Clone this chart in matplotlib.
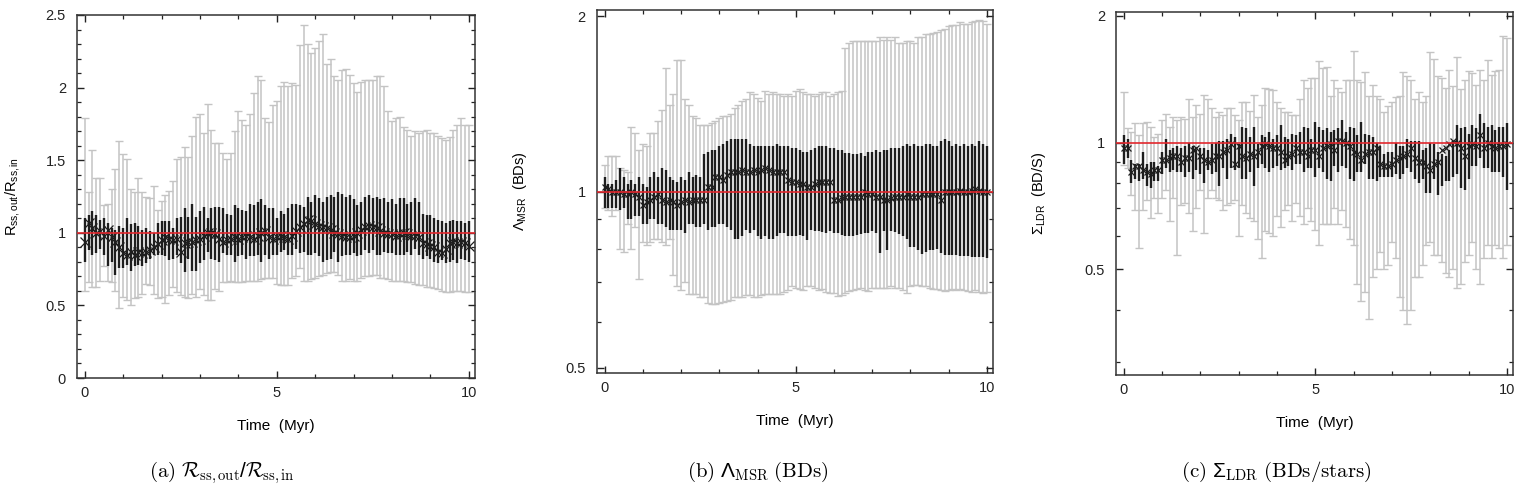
#!/usr/bin/env python3
"""Three-panel time evolution of BD/star spatial ratios with percentile bars."""
import numpy as np
import matplotlib
matplotlib.use("Agg")
import matplotlib.pyplot as plt
from matplotlib.ticker import FixedLocator, MultipleLocator, NullFormatter

# time axis: one sample every 0.1 Myr
TIME = [round(0.1 * i, 1) for i in range(101)]

# (a) R_ss,out / R_ss,in
A_MED = [0.94, 1.07, 1.03, 1.00, 1.01, 0.98, 1.02, 0.97, 0.94, 0.90,
         0.86, 0.85, 0.87, 0.85, 0.87, 0.86, 0.87, 0.88, 0.90, 0.92,
         0.95, 0.97, 0.96, 0.95, 0.96, 0.87, 0.93, 0.94, 0.94, 0.95,
         0.96, 0.98, 1.00, 1.00, 0.99, 0.96, 0.94, 0.95, 0.96, 0.97,
         0.96, 0.97, 0.98, 0.97, 0.96, 0.98, 1.00, 1.01, 0.97, 0.96,
         0.97, 0.98, 0.97, 0.96, 0.98, 1.01, 1.04, 1.06, 1.09, 1.08,
         1.06, 1.05, 1.04, 1.03, 1.02, 1.00, 0.99, 0.98, 0.97, 0.97,
         0.98, 1.00, 1.02, 1.04, 1.05, 1.04, 1.03, 1.01, 1.00, 0.99,
         0.99, 0.98, 0.99, 1.00, 0.99, 0.98, 0.98, 0.97, 0.93, 0.92,
         0.91, 0.90, 0.87, 0.86, 0.89, 0.93, 0.94, 0.93, 0.94, 0.93,
         0.91]
A_IN_LO = [0.80, 0.88, 0.85, 0.86, 0.89, 0.85, 0.77, 0.80, 0.71, 0.76,
           0.76, 0.78, 0.74, 0.77, 0.78, 0.77, 0.79, 0.82, 0.85, 0.85,
           0.85, 0.84, 0.81, 0.82, 0.85, 0.79, 0.73, 0.82, 0.74, 0.74,
           0.79, 0.81, 0.87, 0.82, 0.81, 0.80, 0.86, 0.85, 0.85, 0.80,
           0.84, 0.85, 0.82, 0.84, 0.84, 0.85, 0.80, 0.85, 0.82, 0.85,
           0.85, 0.87, 0.88, 0.85, 0.85, 0.89, 0.86, 0.87, 0.85, 0.85,
           0.86, 0.84, 0.80, 0.81, 0.82, 0.87, 0.80, 0.84, 0.85, 0.85,
           0.86, 0.84, 0.85, 0.88, 0.86, 0.88, 0.85, 0.85, 0.87, 0.86,
           0.86, 0.85, 0.85, 0.85, 0.87, 0.85, 0.89, 0.85, 0.82, 0.84,
           0.82, 0.80, 0.79, 0.81, 0.79, 0.80, 0.81, 0.79, 0.82, 0.81,
           0.80]
A_IN_HI = [1.10, 1.12, 1.15, 1.12, 1.09, 1.10, 1.07, 1.03, 1.02, 1.05,
           1.03, 1.10, 1.06, 1.07, 1.05, 1.02, 1.03, 1.01, 1.00, 1.07,
           1.08, 1.08, 1.08, 1.03, 1.10, 1.11, 1.17, 1.11, 1.20, 1.11,
           1.15, 1.18, 1.10, 1.17, 1.18, 1.18, 1.17, 1.13, 1.12, 1.19,
           1.17, 1.16, 1.15, 1.20, 1.19, 1.21, 1.23, 1.19, 1.17, 1.17,
           1.10, 1.15, 1.13, 1.17, 1.20, 1.20, 1.19, 1.18, 1.25, 1.21,
           1.26, 1.24, 1.21, 1.25, 1.26, 1.25, 1.28, 1.27, 1.25, 1.26,
           1.23, 1.19, 1.21, 1.25, 1.26, 1.24, 1.25, 1.23, 1.24, 1.21,
           1.23, 1.20, 1.24, 1.24, 1.20, 1.21, 1.24, 1.21, 1.13, 1.12,
           1.12, 1.10, 1.09, 1.08, 1.07, 1.08, 1.09, 1.08, 1.08, 1.07,
           1.08]
A_OUT_LO = [0.60, 0.66, 0.63, 0.63, 0.67, 0.77, 0.67, 0.66, 0.60, 0.48,
            0.56, 0.54, 0.50, 0.55, 0.56, 0.58, 0.65, 0.64, 0.58, 0.55,
            0.56, 0.52, 0.57, 0.63, 0.59, 0.57, 0.56, 0.55, 0.58, 0.56,
            0.61, 0.57, 0.54, 0.54, 0.61, 0.60, 0.66, 0.66, 0.67, 0.66,
            0.66, 0.66, 0.67, 0.67, 0.67, 0.67, 0.68, 0.69, 0.69, 0.69,
            0.65, 0.64, 0.64, 0.64, 0.69, 0.70, 0.76, 0.67, 0.67, 0.68,
            0.69, 0.70, 0.71, 0.72, 0.73, 0.73, 0.71, 0.67, 0.67, 0.68,
            0.67, 0.67, 0.69, 0.70, 0.70, 0.71, 0.71, 0.69, 0.69, 0.68,
            0.67, 0.67, 0.67, 0.67, 0.66, 0.66, 0.65, 0.64, 0.64, 0.63,
            0.63, 0.62, 0.61, 0.60, 0.59, 0.59, 0.60, 0.60, 0.60, 0.59,
            0.59]
A_OUT_HI = [1.79, 1.28, 1.57, 1.38, 1.38, 1.19, 1.20, 1.30, 1.44, 1.63,
            1.54, 1.51, 1.30, 1.28, 1.38, 1.28, 1.25, 1.24, 1.32, 1.16,
            1.22, 1.26, 1.29, 1.36, 1.51, 1.52, 1.59, 1.52, 1.67, 1.80,
            1.82, 1.69, 1.89, 1.71, 1.62, 1.62, 1.55, 1.51, 1.55, 1.70,
            1.84, 1.78, 1.74, 1.82, 1.96, 2.08, 2.05, 1.79, 1.76, 1.88,
            1.91, 2.01, 2.04, 2.01, 2.03, 2.02, 2.29, 2.43, 2.30, 2.24,
            2.27, 2.32, 2.37, 2.16, 2.20, 2.08, 2.05, 2.12, 2.13, 2.09,
            2.03, 1.97, 2.04, 2.05, 2.05, 2.05, 2.08, 2.08, 2.01, 1.84,
            1.77, 1.79, 1.80, 1.73, 1.71, 1.67, 1.70, 1.69, 1.70, 1.71,
            1.69, 1.69, 1.67, 1.65, 1.64, 1.66, 1.71, 1.74, 1.79, 1.74,
            1.74]

# (b) Lambda_MSR (BDs)
B_MED = [1.02, 1.01, 1.00, 1.00, 1.00, 0.99, 0.99, 1.00, 0.99, 0.98,
         0.95, 0.96, 0.97, 0.98, 0.99, 0.97, 0.96, 0.97, 0.96, 0.95,
         0.96, 0.97, 0.96, 0.97, 0.97, 0.97, 0.97, 1.02, 1.02, 1.06,
         1.06, 1.05, 1.07, 1.08, 1.08, 1.08, 1.09, 1.08, 1.08, 1.09,
         1.08, 1.09, 1.10, 1.09, 1.08, 1.08, 1.08, 1.08, 1.05, 1.04,
         1.04, 1.03, 1.03, 1.02, 1.02, 1.03, 1.04, 1.04, 1.04, 1.04,
         0.97, 0.97, 0.975, 0.98, 0.98, 0.98, 0.98, 0.98, 1.00, 0.99,
         0.99, 0.98, 0.98, 0.97, 0.97, 0.975, 0.98, 0.98, 0.98, 0.99,
         0.98, 0.98, 0.98, 0.99, 0.99, 0.99, 0.99, 0.99, 0.97, 1.00,
         1.00, 1.00, 1.00, 1.005, 1.00, 1.00, 1.005, 1.01, 1.005, 1.00,
         1.00]
B_IN_LO = [0.94, 0.94, 0.94, 0.94, 0.93, 0.94, 0.90, 0.90, 0.91, 0.91,
           0.88, 0.88, 0.90, 0.90, 0.88, 0.88, 0.87, 0.86, 0.86, 0.86,
           0.86, 0.85, 0.88, 0.88, 0.87, 0.87, 0.88, 0.86, 0.87, 0.87,
           0.88, 0.88, 0.87, 0.86, 0.83, 0.83, 0.84, 0.86, 0.85, 0.86,
           0.84, 0.83, 0.84, 0.83, 0.83, 0.84, 0.85, 0.85, 0.84, 0.84,
           0.839, 0.844, 0.839, 0.828, 0.861, 0.856, 0.856, 0.853, 0.850, 0.856,
           0.850, 0.852, 0.844, 0.839, 0.841, 0.841, 0.844, 0.847, 0.850, 0.852,
           0.856, 0.850, 0.786, 0.856, 0.796, 0.856, 0.853, 0.847, 0.839, 0.830,
           0.806, 0.806, 0.796, 0.784, 0.790, 0.796, 0.796, 0.800, 0.786, 0.780,
           0.780, 0.780, 0.780, 0.777, 0.777, 0.777, 0.775, 0.773, 0.773, 0.775,
           0.770]
B_IN_HI = [1.06, 1.03, 1.03, 1.05, 1.10, 1.06, 1.03, 1.05, 1.03, 1.06,
           1.03, 1.02, 1.06, 1.08, 1.06, 1.10, 1.09, 1.06, 1.05, 1.04,
           1.06, 1.05, 1.08, 1.06, 1.07, 1.06, 1.16, 1.17, 1.18, 1.18,
           1.20, 1.21, 1.22, 1.23, 1.23, 1.23, 1.23, 1.23, 1.21, 1.20,
           1.20, 1.20, 1.20, 1.20, 1.20, 1.21, 1.20, 1.20, 1.20, 1.19,
           1.19, 1.18, 1.17, 1.17, 1.18, 1.19, 1.20, 1.20, 1.20, 1.19,
           1.19, 1.18, 1.18, 1.165, 1.165, 1.16, 1.16, 1.165, 1.15, 1.17,
           1.17, 1.18, 1.17, 1.18, 1.18, 1.19, 1.19, 1.19, 1.20, 1.21,
           1.20, 1.21, 1.20, 1.20, 1.21, 1.21, 1.20, 1.20, 1.22, 1.23,
           1.22, 1.20, 1.21, 1.20, 1.21, 1.20, 1.21, 1.20, 1.22, 1.21,
           1.20]
B_OUT_LO = [0.94, 0.93, 0.91, 0.93, 0.80, 0.79, 0.88, 0.80, 0.87, 0.71,
            0.82, 0.81, 0.82, 0.83, 0.83, 0.82, 0.81, 0.83, 0.72, 0.69,
            0.68, 0.70, 0.67, 0.67, 0.67, 0.66, 0.66, 0.645, 0.644, 0.644,
            0.645, 0.647, 0.65, 0.653, 0.66, 0.66, 0.66, 0.667, 0.667, 0.66,
            0.66, 0.667, 0.67, 0.67, 0.67, 0.67, 0.67, 0.675, 0.68, 0.69,
            0.684, 0.682, 0.68, 0.689, 0.69, 0.684, 0.68, 0.682, 0.675, 0.671,
            0.671, 0.664, 0.667, 0.671, 0.678, 0.68, 0.682, 0.684, 0.68, 0.678,
            0.684, 0.684, 0.686, 0.684, 0.685, 0.689, 0.684, 0.684, 0.68, 0.672,
            0.689, 0.694, 0.694, 0.691, 0.689, 0.684, 0.682, 0.682, 0.68, 0.678,
            0.68, 0.682, 0.68, 0.682, 0.68, 0.678, 0.675, 0.68, 0.675, 0.671,
            0.675]
B_OUT_HI = [1.11, 1.15, 1.15, 1.15, 1.10, 1.09, 1.08, 1.29, 1.26, 1.18,
            1.21, 1.20, 1.26, 1.26, 1.32, 1.38, 1.63, 1.41, 1.47, 1.68,
            1.68, 1.44, 1.41, 1.35, 1.34, 1.30, 1.30, 1.30, 1.31, 1.32,
            1.34, 1.35, 1.35, 1.36, 1.39, 1.41, 1.43, 1.44, 1.48, 1.47,
            1.45, 1.43, 1.49, 1.47, 1.48, 1.47, 1.47, 1.46, 1.47, 1.46,
            1.49, 1.50, 1.48, 1.47, 1.47, 1.46, 1.47, 1.48, 1.48, 1.46,
            1.47, 1.48, 1.49, 1.76, 1.80, 1.81, 1.81, 1.81, 1.81, 1.81,
            1.81, 1.81, 1.84, 1.82, 1.84, 1.82, 1.84, 1.80, 1.80, 1.81,
            1.81, 1.80, 1.84, 1.84, 1.86, 1.86, 1.87, 1.88, 1.89, 1.90,
            1.92, 1.93, 1.93, 1.95, 1.94, 1.94, 1.95, 1.96, 1.97, 1.96,
            1.94]

# (c) Sigma_LDR (BDs/stars)
C_MED = [0.97, 0.97, 0.85, 0.88, 0.88, 0.86, 0.85, 0.84, 0.86, 0.86,
         0.91, 0.91, 0.92, 0.93, 0.93, 0.90, 0.92, 0.92, 0.96, 0.97,
         0.93, 0.91, 0.90, 0.91, 0.93, 0.93, 0.95, 0.96, 0.99, 0.89,
         0.98, 0.93, 0.92, 0.94, 0.93, 0.95, 0.98, 0.99, 0.98, 0.97,
         0.97, 0.95, 0.91, 0.93, 0.94, 0.97, 0.95, 0.95, 0.93, 0.96,
         0.96, 0.93, 0.97, 0.98, 0.99, 0.96, 1.01, 1.01, 1.00, 0.98,
         0.95, 0.94, 0.91, 0.94, 0.95, 0.95, 0.97, 0.89, 0.88, 0.88,
         0.89, 0.91, 0.92, 0.93, 0.94, 0.97, 0.92, 0.90, 0.90, 0.88,
         0.86, 0.89, 0.90, 0.96, 0.97, 0.99, 1.01, 1.00, 0.97, 0.93,
         0.98, 0.99, 0.98, 1.04, 0.97, 1.00, 0.98, 0.97, 0.98, 0.98,
         0.99]
C_IN_LO = [0.89, 0.92, 0.80, 0.82, 0.81, 0.82, 0.79, 0.78, 0.81, 0.81,
           0.84, 0.87, 0.85, 0.86, 0.85, 0.85, 0.83, 0.85, 0.82, 0.86,
           0.84, 0.80, 0.86, 0.84, 0.85, 0.79, 0.87, 0.82, 0.87, 0.86,
           0.87, 0.82, 0.82, 0.85, 0.79, 0.87, 0.89, 0.87, 0.85, 0.87,
           0.88, 0.86, 0.87, 0.88, 0.86, 0.89, 0.89, 0.85, 0.87, 0.87,
           0.83, 0.87, 0.85, 0.82, 0.81, 0.88, 0.85, 0.88, 0.87, 0.82,
           0.81, 0.85, 0.85, 0.89, 0.82, 0.82, 0.81, 0.83, 0.83, 0.83,
           0.83, 0.84, 0.82, 0.84, 0.87, 0.85, 0.82, 0.80, 0.82, 0.76,
           0.76, 0.82, 0.75, 0.79, 0.81, 0.81, 0.83, 0.84, 0.78, 0.77,
           0.82, 0.88, 0.88, 0.92, 0.87, 0.87, 0.85, 0.85, 0.85, 0.83,
           0.77]
C_IN_HI = [1.04, 1.02, 0.91, 0.89, 0.89, 0.95, 0.89, 0.90, 0.90, 0.88,
           0.95, 1.02, 0.96, 0.97, 0.98, 0.97, 0.98, 1.00, 0.98, 0.96,
           0.97, 0.97, 0.96, 0.99, 1.00, 1.01, 1.01, 1.02, 1.05, 1.03,
           0.99, 1.09, 1.08, 1.03, 1.09, 0.99, 1.04, 1.03, 1.06, 1.02,
           1.04, 1.10, 1.03, 1.02, 1.05, 1.04, 1.06, 1.09, 1.08, 1.02,
           1.12, 1.09, 1.07, 1.08, 1.06, 1.07, 1.08, 1.13, 1.06, 1.09,
           1.08, 1.04, 1.12, 1.05, 1.04, 1.03, 1.00, 0.98, 0.94, 0.95,
           0.95, 1.00, 0.98, 0.98, 1.02, 1.01, 1.01, 1.01, 0.96, 0.97,
           1.00, 0.99, 0.95, 0.94, 0.93, 0.96, 1.01, 1.10, 1.08, 1.09,
           1.05, 1.10, 1.08, 1.17, 1.11, 1.09, 1.10, 1.07, 1.09, 1.09,
           1.11]
C_OUT_LO = [0.885, 0.87, 0.75, 0.69, 0.56, 0.69, 0.73, 0.66, 0.74, 0.68,
            0.74, 0.77, 0.65, 0.74, 0.54, 0.71, 0.72, 0.68, 0.615, 0.70,
            0.77, 0.61, 0.74, 0.77, 0.74, 0.73, 0.69, 0.71, 0.72, 0.73,
            0.60, 0.71, 0.68, 0.66, 0.65, 0.59, 0.53, 0.615, 0.61, 0.60,
            0.67, 0.63, 0.69, 0.71, 0.65, 0.72, 0.67, 0.64, 0.70, 0.65,
            0.62, 0.57, 0.64, 0.64, 0.64, 0.70, 0.64, 0.69, 0.63, 0.59,
            0.57, 0.46, 0.42, 0.44, 0.38, 0.48, 0.50, 0.55, 0.50, 0.51,
            0.58, 0.53, 0.43, 0.40, 0.37, 0.40, 0.48, 0.48, 0.51, 0.57,
            0.58, 0.54, 0.54, 0.52, 0.49, 0.48, 0.50, 0.45, 0.46, 0.52,
            0.54, 0.58, 0.50, 0.46, 0.53, 0.57, 0.53, 0.57, 0.56, 0.53,
            0.57]
C_OUT_HI = [1.32, 1.08, 1.06, 1.11, 1.04, 1.11, 1.12, 1.09, 1.03, 1.05,
            1.13, 1.17, 1.09, 1.15, 1.13, 1.15, 1.14, 1.27, 1.15, 1.23,
            1.17, 1.30, 1.27, 1.21, 1.15, 1.18, 1.16, 1.21, 1.21, 1.16,
            1.13, 1.25, 1.25, 1.19, 1.30, 1.15, 1.23, 1.35, 1.34, 1.33,
            1.25, 1.21, 1.18, 1.18, 1.16, 1.16, 1.27, 1.41, 1.35, 1.42,
            1.42, 1.56, 1.50, 1.51, 1.29, 1.41, 1.35, 1.32, 1.41, 1.41,
            1.65, 1.41, 1.39, 1.47, 1.29, 1.37, 1.29, 1.27, 1.18, 1.22,
            1.25, 1.28, 1.29, 1.47, 1.44, 1.41, 1.27, 1.32, 1.25, 1.29,
            1.64, 1.58, 1.44, 1.42, 1.35, 1.49, 1.36, 1.60, 1.34, 1.41,
            1.48, 1.46, 1.37, 1.49, 1.41, 1.57, 1.45, 1.48, 1.49, 1.79,
            1.77]

X_TICKS = [0, 5, 10]
Y_TICKS_A = [0, 0.5, 1, 1.5, 2, 2.5]
Y_TICKS_LOG = [0.5, 1, 2]
Y_MINOR_B = [0.6, 0.7, 0.8, 0.9]
Y_MINOR_C = [0.3, 0.4, 0.6, 0.7, 0.8, 0.9]

YLABELS = ["R$_{\\rm ss,out}$/R$_{\\rm ss,in}$",
           "\u039b$_{\\rm MSR}$  (BDs)",
           "\u03a3$_{\\rm LDR}$  (BD/S)"]
CAPTIONS = [r"$\mathrm{(a)}\ \mathcal{R}_{\mathrm{ss,out}}/\mathcal{R}_{\mathrm{ss,in}}$",
            r"$\mathrm{(b)}\ \Lambda_{\mathrm{MSR}}\ \mathrm{(BDs)}$",
            r"$\mathrm{(c)}\ \Sigma_{\mathrm{LDR}}\ \mathrm{(BDs/stars)}$"]

plt.rcParams["font.family"] = ["Liberation Sans", "DejaVu Sans"]
plt.rcParams["mathtext.fontset"] = "custom"
plt.rcParams["mathtext.rm"] = "Liberation Sans"
plt.rcParams["mathtext.it"] = "Liberation Sans:italic"
plt.rcParams["mathtext.default"] = "regular"

GREY = "#c4c4c4"
BLACK = "#1e1e1e"
RED = "#e2262c"
FS = 10.5


def draw_panel(ax, med, in_lo, in_hi, out_lo, out_hi, cross_ms):
    t = np.array(TIME)
    ax.vlines(t, out_lo, out_hi, color=GREY, lw=1.1, zorder=1)
    ax.plot(t, out_hi, ls="none", marker="_", ms=5.5, mew=1.0, color=GREY, zorder=1)
    ax.plot(t, out_lo, ls="none", marker="_", ms=5.5, mew=1.0, color=GREY, zorder=1)
    ax.vlines(t, in_lo, in_hi, color=BLACK, lw=1.7, zorder=2)
    ax.plot(t, med, ls="none", marker="x", ms=cross_ms, mew=0.9, color=BLACK, zorder=3)
    ax.axhline(1.0, color=RED, lw=1.4, alpha=0.85, zorder=4)


def style(ax):
    ax.xaxis.set_major_locator(FixedLocator(X_TICKS))
    ax.xaxis.set_minor_locator(MultipleLocator(1))
    ax.set_xlim(-0.2, 10.16)
    ax.tick_params(which="both", direction="in", top=True, right=True,
                   labelsize=FS, colors="#222222")
    ax.tick_params(which="major", length=5, width=1.0)
    ax.tick_params(which="minor", length=3, width=0.9)
    ax.tick_params(axis="y", pad=8)
    ax.tick_params(axis="x", pad=6)
    for sp in ax.spines.values():
        sp.set_linewidth(1.1)
        sp.set_color("#333333")
    ax.set_xlabel("Time  (Myr)", fontsize=FS + 0.5)
    ax.xaxis.set_label_coords(0.5, -0.113)


fig = plt.figure(figsize=(15.19, 4.87), dpi=100)
ax_a = fig.add_axes([0.0507, 0.2238, 0.2620, 0.7454])
ax_b = fig.add_axes([0.3930, 0.2341, 0.2607, 0.7454])
ax_c = fig.add_axes([0.7347, 0.2300, 0.2614, 0.7454])

draw_panel(ax_a, A_MED, A_IN_LO, A_IN_HI, A_OUT_LO, A_OUT_HI, 7)
draw_panel(ax_b, B_MED, B_IN_LO, B_IN_HI, B_OUT_LO, B_OUT_HI, 5)
draw_panel(ax_c, C_MED, C_IN_LO, C_IN_HI, C_OUT_LO, C_OUT_HI, 5)

for ax in (ax_a, ax_b, ax_c):
    style(ax)

ax_a.set_ylim(0, 2.5)
ax_a.yaxis.set_major_locator(FixedLocator(Y_TICKS_A))
ax_a.set_yticklabels(["0", "0.5", "1", "1.5", "2", "2.5"])
ax_a.yaxis.set_minor_locator(MultipleLocator(0.1))

for ax, minors, lims in ((ax_b, Y_MINOR_B, (0.49, 2.048)),
                         (ax_c, Y_MINOR_C, (0.28, 2.044))):
    ax.set_yscale("log")
    ax.set_ylim(*lims)
    ax.yaxis.set_major_locator(FixedLocator(Y_TICKS_LOG))
    ax.set_yticklabels(["0.5", "1", "2"])
    ax.yaxis.set_minor_locator(FixedLocator(minors))
    ax.yaxis.set_minor_formatter(NullFormatter())

for ax, lab, xpos in zip((ax_a, ax_b, ax_c), YLABELS, (-0.138, -0.172, -0.171)):
    ax.set_ylabel(lab, fontsize=FS)
    ax.yaxis.set_label_coords(xpos, 0.5)

for xc, cap in zip((0.146, 0.499, 0.840), CAPTIONS):
    fig.text(xc, 0.03, cap, ha="center", va="center", fontsize=15,
             math_fontfamily="cm")

fig.savefig("out.png", dpi=100)
